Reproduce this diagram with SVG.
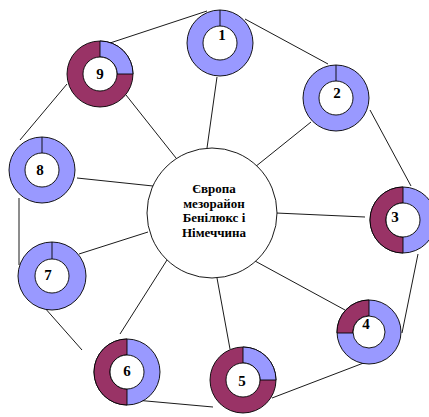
<svg xmlns="http://www.w3.org/2000/svg" width="429" height="417" viewBox="0 0 429 417">
<style>
.b{fill:#9999FF;stroke:#000;stroke-width:0.9}
.m{fill:#993366;stroke:#000;stroke-width:0.9}
.h{fill:#fff;stroke:#000;stroke-width:0.9}
.ln{stroke:#000;stroke-width:0.9;fill:none}
.lbl{font-family:"Liberation Serif","Times New Roman",serif;font-weight:bold;font-size:15px;text-anchor:middle;fill:#000}
.ct{font-family:"Liberation Serif","Times New Roman",serif;font-weight:bold;font-size:13px;text-anchor:middle;fill:#000}
</style>
<rect width="429" height="417" fill="#fff"/>
<g id="connectors" class="ln">
<line x1="207" y1="148" x2="217" y2="77"/>
<line x1="255" y1="167" x2="311" y2="122"/>
<line x1="276" y1="213" x2="365" y2="217"/>
<line x1="255" y1="261" x2="345" y2="310"/>
<line x1="217" y1="278" x2="230" y2="349"/>
<line x1="167" y1="260" x2="120" y2="334"/>
<line x1="148" y1="232" x2="79" y2="254"/>
<line x1="77" y1="178" x2="153" y2="186"/>
<line x1="126" y1="95" x2="176" y2="158"/>
<line x1="110" y1="43" x2="207" y2="11"/>
<line x1="245" y1="19" x2="328" y2="64"/>
<line x1="370" y1="110" x2="411" y2="186"/>
<line x1="418" y1="254" x2="402" y2="333"/>
<line x1="374" y1="359" x2="272" y2="398"/>
<line x1="124" y1="399" x2="213" y2="407"/>
<line x1="82" y1="350" x2="44" y2="307"/>
<line x1="19" y1="198" x2="19" y2="265"/>
<line x1="20" y1="140" x2="67" y2="84"/>
</g>
<g id="center">
<circle cx="212" cy="213" r="65" fill="#fff" stroke="#000" stroke-width="0.9"/>
<text class="ct" x="214" y="193">Європа</text>
<text class="ct" x="214" y="207.5">мезорайон</text>
<text class="ct" x="214" y="222">Бенілюкс і</text>
<text class="ct" x="214" y="236.5">Німеччина</text>
</g>
<g id="n1">
<circle class="b" cx="220" cy="43" r="33"/>
<circle class="h" cx="220" cy="43" r="17"/>
<line class="ln" x1="220" y1="10" x2="220" y2="26"/>
<text class="lbl" x="222" y="40">1</text>
</g>
<g id="n2">
<circle class="b" cx="336" cy="98" r="33"/>
<circle class="h" cx="336" cy="98" r="17"/>
<line class="ln" x1="336" y1="65" x2="336" y2="81"/>
<text class="lbl" x="337" y="98">2</text>
</g>
<g id="n3">
<circle class="b" cx="403" cy="220" r="33"/>
<path class="m" d="M403,253 A33,33 0 0 1 403,187 L403,203 A17,17 0 0 0 403,237 Z"/>
<circle class="h" cx="403" cy="220" r="17"/>
<text class="lbl" x="395" y="222">3</text>
</g>
<g id="n4">
<circle class="b" cx="369" cy="332" r="32"/>
<path class="m" d="M337,333 A32,32 0 0 1 369,300 L369,316 A16,16 0 0 0 353,333 Z"/>
<circle class="h" cx="369" cy="332" r="16"/>
<text class="lbl" x="366" y="329">4</text>
</g>
<g id="n5">
<circle class="m" cx="243" cy="380" r="33"/>
<path class="b" d="M243,347 A33,33 0 0 1 276,380 L260,380 A17,17 0 0 0 243,363 Z"/>
<circle class="h" cx="243" cy="380" r="17"/>
<text class="lbl" x="242" y="386">5</text>
</g>
<g id="n6">
<circle class="b" cx="127" cy="372" r="33"/>
<path class="m" d="M127,405 A33,33 0 0 1 127,339 L127,355 A17,17 0 0 0 127,389 Z"/>
<circle class="h" cx="127" cy="372" r="17"/>
<text class="lbl" x="127" y="376">6</text>
</g>
<g id="n7">
<circle class="b" cx="52" cy="276" r="34"/>
<circle class="h" cx="52" cy="276" r="17"/>
<line class="ln" x1="52" y1="242" x2="52" y2="259"/>
<text class="lbl" x="48" y="280">7</text>
</g>
<g id="n8">
<circle class="b" cx="42" cy="170" r="33"/>
<circle class="h" cx="42" cy="170" r="17"/>
<line class="ln" x1="42" y1="137" x2="42" y2="153"/>
<text class="lbl" x="40" y="175">8</text>
</g>
<g id="n9">
<circle class="m" cx="100" cy="74" r="33"/>
<path class="b" d="M100,41 A33,33 0 0 1 133,74 L117,74 A17,17 0 0 0 100,57 Z"/>
<circle class="h" cx="100" cy="74" r="17"/>
<text class="lbl" x="100" y="79">9</text>
</g>
</svg>
